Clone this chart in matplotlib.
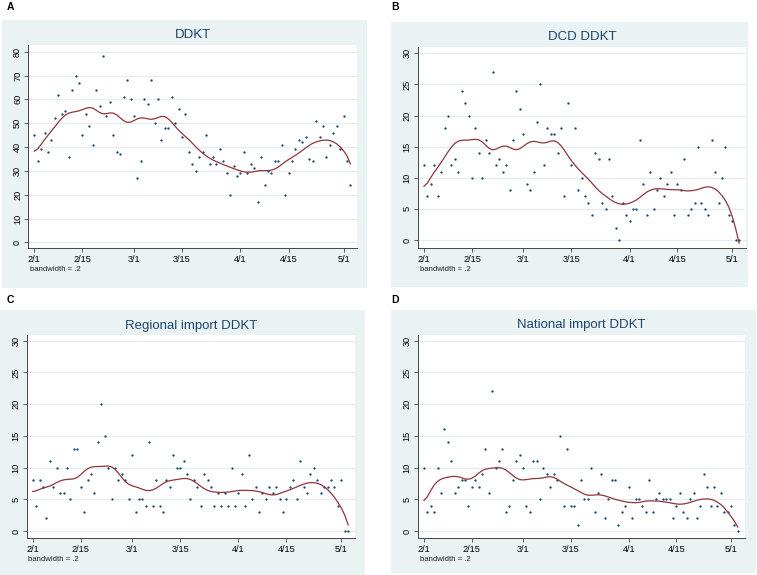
import numpy as np
import matplotlib
matplotlib.use("Agg")
import matplotlib.pyplot as plt
from matplotlib.patches import Rectangle
from datetime import date

plt.rcParams['font.family'] = ['Liberation Sans', 'DejaVu Sans']

# ---------------- data (daily counts from 2020-02-01) ----------------
start_date = date(2020, 2, 1)
tick_dates = [date(2020, 2, 1), date(2020, 2, 15), date(2020, 3, 1), date(2020, 3, 15),
              date(2020, 4, 1), date(2020, 4, 15), date(2020, 5, 1)]
tick_labels = ['2/1', '2/15', '3/1', '3/15', '4/1', '4/15', '5/1']

ddkt = [45, 34, 39, 46, 38, 43, 52, 62, 54, 55, 36, 64, 70, 67, 45, 54, 49, 41, 64, 57,
        78, 53, 59, 45, 38, 37, 61, 68, 60, 53, 27, 34, 60, 58, 68, 50, 60, 43, 48, 48,
        61, 50, 56, 44, 54, 38, 33, 30, 36, 38, 45, 33, 36, 33, 39, 34, 29, 20, 32, 28,
        29, 38, 29, 33, 31, 17, 36, 24, 30, 29, 34, 34, 41, 20, 29, 34, 39, 43, 42, 44,
        35, 34, 51, 44, 49, 36, 41, 46, 49, 39, 53, 34, 24]
dcd_ddkt = [12, 7, 9, 12, 7, 11, 18, 20, 12, 13, 11, 24, 22, 20, 10, 18, 14, 10, 16, 14,
            27, 12, 13, 11, 12, 8, 16, 24, 21, 17, 9, 8, 11, 19, 25, 12, 18, 17, 17, 14,
            18, 7, 22, 12, 18, 8, 10, 7, 6, 4, 14, 13, 6, 5, 13, 7, 2, 0, 6, 4,
            3, 5, 5, 16, 9, 4, 11, 5, 8, 10, 7, 9, 11, 4, 9, 8, 13, 4, 5, 6,
            15, 6, 5, 4, 16, 11, 6, 10, 15, 4, 3, 0, 0]
regional_ddkt = [8, 4, 8, 7, 2, 11, 7, 10, 6, 6, 10, 5, 13, 13, 7, 3, 8, 9, 6, 14,
                 20, 15, 10, 5, 10, 8, 9, 8, 5, 12, 3, 5, 5, 4, 14, 4, 8, 4, 3, 8,
                 7, 12, 10, 10, 11, 9, 5, 8, 7, 4, 9, 8, 7, 4, 6, 4, 6, 4, 10, 4,
                 6, 9, 4, 12, 5, 7, 3, 6, 5, 7, 6, 7, 5, 3, 5, 7, 8, 5, 11, 7,
                 6, 9, 10, 8, 6, 7, 7, 8, 7, 4, 8, 0, 0]
national_ddkt = [10, 3, 4, 3, 10, 6, 16, 14, 11, 6, 7, 8, 8, 4, 7, 8, 7, 9, 13, 6,
                 22, 10, 11, 13, 3, 4, 8, 11, 12, 10, 4, 3, 11, 11, 5, 10, 9, 7, 9, 8,
                 15, 4, 13, 4, 4, 1, 8, 5, 5, 10, 3, 6, 9, 2, 5, 8, 8, 1, 3, 4,
                 7, 2, 5, 5, 4, 3, 8, 3, 5, 6, 5, 5, 5, 2, 4, 6, 3, 2, 5, 6,
                 2, 4, 9, 7, 4, 7, 4, 6, 3, 3, 4, 1, 0]

panel_letters = ['A', 'B', 'C', 'D']
panel_titles = ['DDKT', 'DCD DDKT', 'Regional import DDKT', 'National import DDKT']
panel_series = [ddkt, dcd_ddkt, regional_ddkt, national_ddkt]
panel_yticks = [list(range(0, 81, 10)), list(range(0, 31, 5)),
                list(range(0, 31, 5)), list(range(0, 31, 5))]
bandwidth = 0.2


def lowess_stata(x, y, bw):
    """Stata-style lowess: local linear fit with tricube weights, no robustness."""
    x = np.asarray(x, float)
    y = np.asarray(y, float)
    n = len(x)
    k = int(np.floor((n * bw - 0.5) / 2))
    out = np.empty(n)
    for i in range(n):
        lo = max(0, i - k)
        hi = min(n - 1, i + k)
        xs = x[lo:hi + 1]
        ys = y[lo:hi + 1]
        delta = 1.0001 * max(x[hi] - x[i], x[i] - x[lo])
        w = (1 - (np.abs(xs - x[i]) / delta) ** 3) ** 3
        W = w.sum()
        xm = (w * xs).sum() / W
        ym = (w * ys).sum() / W
        den = (w * (xs - xm) ** 2).sum()
        b = (w * (xs - xm) * (ys - ym)).sum() / den if den > 0 else 0.0
        out[i] = ym + b * (x[i] - xm)
    return out


# ---------------- layout (pixel geometry) ----------------
W_PX, H_PX = 757, 575
fig = plt.figure(figsize=(W_PX / 100, H_PX / 100), dpi=100)
fig.patch.set_facecolor('white')


def fx(px):
    return px / W_PX


def fy(py):
    return 1 - py / H_PX


# gray panel boxes (x0, y0, x1, y1) in px
boxes = [(2, 20, 367, 288), (391, 22, 748, 287), (0, 310, 365, 575), (391, 310, 756, 573)]
# plot regions
plots = [(28.3, 45, 357.3, 248.3), (418, 46.7, 746, 248.3),
         (26.7, 335, 355, 538.3), (418, 335, 744.7, 538.3)]
letter_pos = [(10, 7), (395, 7), (10, 300), (395, 300)]
title_y = [35, 37, 325.5, 325]
ylims = [(-2.5, 82.8), (-1.34, 31.07), (-1.16, 30.9), (-1.16, 30.9)]

bg_col = '#EAF2F3'
navy = '#1a476f'
line_col = '#90353b'

for i in range(4):
    x0, y0, x1, y1 = boxes[i]
    fig.patches.append(Rectangle((fx(x0), fy(y1)), (x1 - x0) / W_PX, (y1 - y0) / H_PX,
                                 transform=fig.transFigure, facecolor=bg_col,
                                 edgecolor='none', zorder=-10))
    lx, ly = letter_pos[i]
    fig.text(fx(lx), fy(ly), panel_letters[i], fontsize=7.5, fontweight='bold',
             ha='center', va='center', color='black')

    px0, py0, px1, py1 = plots[i]
    ax = fig.add_axes([fx(px0), fy(py1), (px1 - px0) / W_PX, (py1 - py0) / H_PX])
    ax.set_zorder(5)
    ax.set_facecolor('white')
    vals = np.array(panel_series[i], float)
    days = np.arange(len(vals))
    ax.scatter(days, vals, s=2.8, color=navy, linewidths=0, zorder=3)
    smooth = lowess_stata(days, vals, bandwidth)
    ax.plot(days, smooth, color=line_col, lw=0.9, zorder=4)

    ax.set_xlim(-1.75, 94)
    ax.set_ylim(*ylims[i])
    ticks = [(d - start_date).days for d in tick_dates]
    ax.set_xticks(ticks)
    ax.set_xticklabels(tick_labels, fontsize=6.6)
    ax.set_yticks(panel_yticks[i])
    ax.set_yticklabels([str(v) for v in panel_yticks[i]], fontsize=6.6,
                       rotation=90, va='center')
    ax.yaxis.grid(True, color='#E3ECEF', lw=0.8)
    ax.set_axisbelow(True)
    for s in ['top', 'right']:
        ax.spines[s].set_visible(False)
    for s in ['left', 'bottom']:
        ax.spines[s].set_color('#444444')
        ax.spines[s].set_linewidth(0.7)
    ax.tick_params(axis='x', direction='out', length=3, width=0.6,
                   color='#444444', pad=2)
    ax.tick_params(axis='y', direction='out', length=3, width=0.6,
                   color='#444444', pad=1.5)

    fig.text(fx((px0 + px1) / 2), fy(title_y[i]), panel_titles[i], fontsize=9.5,
             color=navy, ha='center', va='center')
    fig.text(fx(px0 + 1.5), fy(py1 + 21), 'bandwidth = .2', fontsize=5.6,
             ha='left', va='center', color='#222222')

fig.savefig('out.png', dpi=100, facecolor='white')
